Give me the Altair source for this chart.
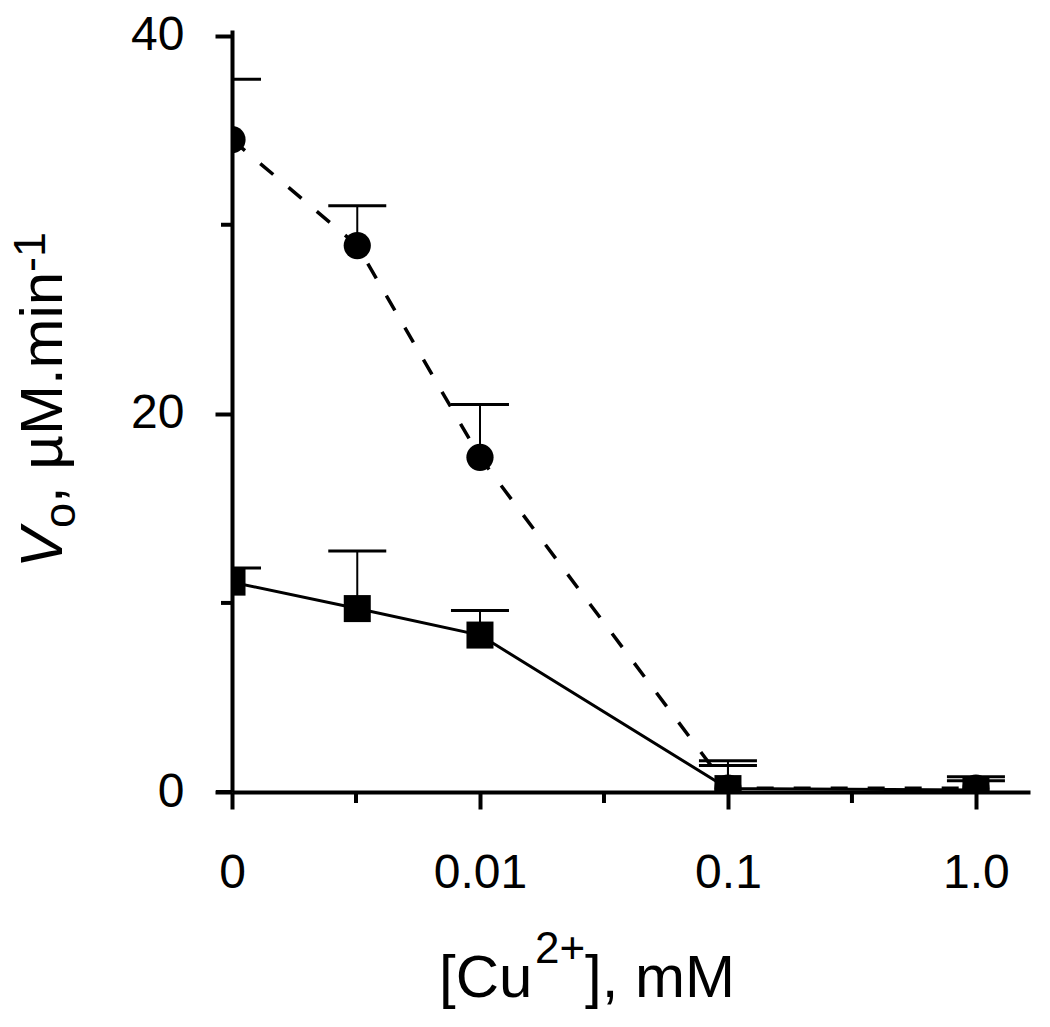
import altair as alt
import pandas as pd
import numpy as np

# ---- data ----
conc = [0, 0.0032, 0.01, 0.1, 1.0]              # [Cu2+], mM
circle_v = [34.5, 28.9, 17.7, 0.2, 0.2]          # filled circles, dashed line
circle_upper = [37.7, 31.0, 20.5, 1.65, 0.8]
square_v = [11.1, 9.7, 8.3, 0.18, 0.1]           # filled squares, solid line
square_upper = [11.85, 12.75, 9.6, 1.4, 0.6]

x_tick_vals = [0, 1, 2, 3]
x_tick_labels = ["0", "0.01", "0.1", "1.0"]
x_minor = [0.5, 1.5, 2.5]
y_tick_vals = [0, 20, 40]
y_minor = [10, 30]

FONT = "Liberation Sans"
W, H = 798, 762


def to_pos(c):
    return 0.0 if c == 0 else float(np.log10(c) + 3)


rows = []
for s, vals, ups in [("circle", circle_v, circle_upper), ("square", square_v, square_upper)]:
    for c, v, u in zip(conc, vals, ups):
        rows.append({"series": s, "conc": c, "pos": to_pos(c), "v": v, "upper": u})
df = pd.DataFrame(rows)

label_expr = " : ".join(
    f"datum.value == {v} ? '{l}'" for v, l in zip(x_tick_vals[:-1], x_tick_labels[:-1])
) + f" : '{x_tick_labels[-1]}'"

xs = alt.Scale(domain=[0, 3.218], nice=False, zero=False)
ys = alt.Scale(domain=[0, 40.3], nice=False, zero=False)

x_axis = alt.Axis(values=x_tick_vals, labelExpr=label_expr, title=None, grid=False,
                  tickSize=17, tickWidth=4, tickColor="black", domainWidth=4,
                  domainColor="black", labelFontSize=48, labelPadding=40,
                  labelColor="black", labelFont=FONT, labelAngle=0,
                  labelFlush=False, labelOverlap=False, labelBound=False)
y_axis = alt.Axis(values=y_tick_vals, title=None, grid=False,
                  tickSize=17, tickWidth=4, tickColor="black", domainWidth=4,
                  domainColor="black", labelFontSize=48, labelPadding=31,
                  labelColor="black", labelFont=FONT,
                  labelFlush=False, labelOverlap=False, labelBound=False)

X = alt.X("pos:Q", scale=xs, axis=x_axis)
Y = alt.Y("v:Q", scale=ys, axis=y_axis)

base = alt.Chart(df)
circ = base.transform_filter(alt.datum.series == "circle")
sq = base.transform_filter(alt.datum.series == "square")

line_c = circ.mark_line(color="black", strokeWidth=3.5, strokeDash=[17, 20], clip=True).encode(x=X, y=Y)
line_s = sq.mark_line(color="black", strokeWidth=3, clip=True).encode(x=X, y=Y)

err = base.mark_rule(color="black", strokeWidth=2, clip=True).encode(x=X, y=Y, y2="upper:Q")
caps = base.mark_tick(color="black", orient="horizontal", size=58, thickness=3,
                      clip=True, opacity=1).encode(x=X, y=alt.Y("upper:Q", scale=ys, axis=y_axis))

pts_c = circ.mark_circle(color="black", size=740, opacity=1, clip=True).encode(x=X, y=Y)
pts_s = sq.mark_square(color="black", size=730, opacity=1, clip=True).encode(x=X, y=Y)

# minor ticks
xminor = alt.Chart(pd.DataFrame({"pos": x_minor})).mark_rule(color="black", strokeWidth=4).encode(
    x=X, y=alt.value(H), y2=alt.value(H + 11))
yminor = alt.Chart(pd.DataFrame({"v": y_minor})).mark_rule(color="black", strokeWidth=4).encode(
    y=Y, x=alt.value(0), x2=alt.value(-11))
# x-axis line continues slightly left of the y axis
xext = alt.Chart(pd.DataFrame({"pos": [0]})).mark_rule(color="black", strokeWidth=4).encode(
    x=alt.value(-16), x2=alt.value(0), y=alt.value(H))


def txt(s, x, y, size, angle=0, style="normal"):
    return alt.Chart(alt.Data(values=[{"t": s}])).mark_text(
        font=FONT, fontSize=size, color="black", align="left", baseline="alphabetic",
        angle=angle, fontStyle=style
    ).encode(text="t:N", x=alt.value(x), y=alt.value(y))


titles = [
    # x title: [Cu2+], mM
    txt("[Cu", 207, 967, 60),
    txt("2+", 303, 933, 44),
    txt("], mM", 353, 967, 60),
    # y title: Vo, µM.min-1 (rotated)
    txt("V", -170, 538, 60, angle=270, style="italic"),
    txt("o", -157, 498, 45, angle=270),
    txt(", µM.min", -170, 473, 60, angle=270),
    txt("-1", -187, 242, 45, angle=270),
]

chart = alt.layer(
    line_c, line_s, err, caps, pts_c, pts_s, xminor, yminor, xext, *titles
).properties(
    width=W, height=H,
    background="white",
    autosize=alt.AutoSizeParams(type="none"),
    padding={"left": 224, "top": 22, "right": 6, "bottom": 230},
).configure_view(stroke=None)

chart.save("out.html", embed_options={"renderer": "svg", "actions": False})
